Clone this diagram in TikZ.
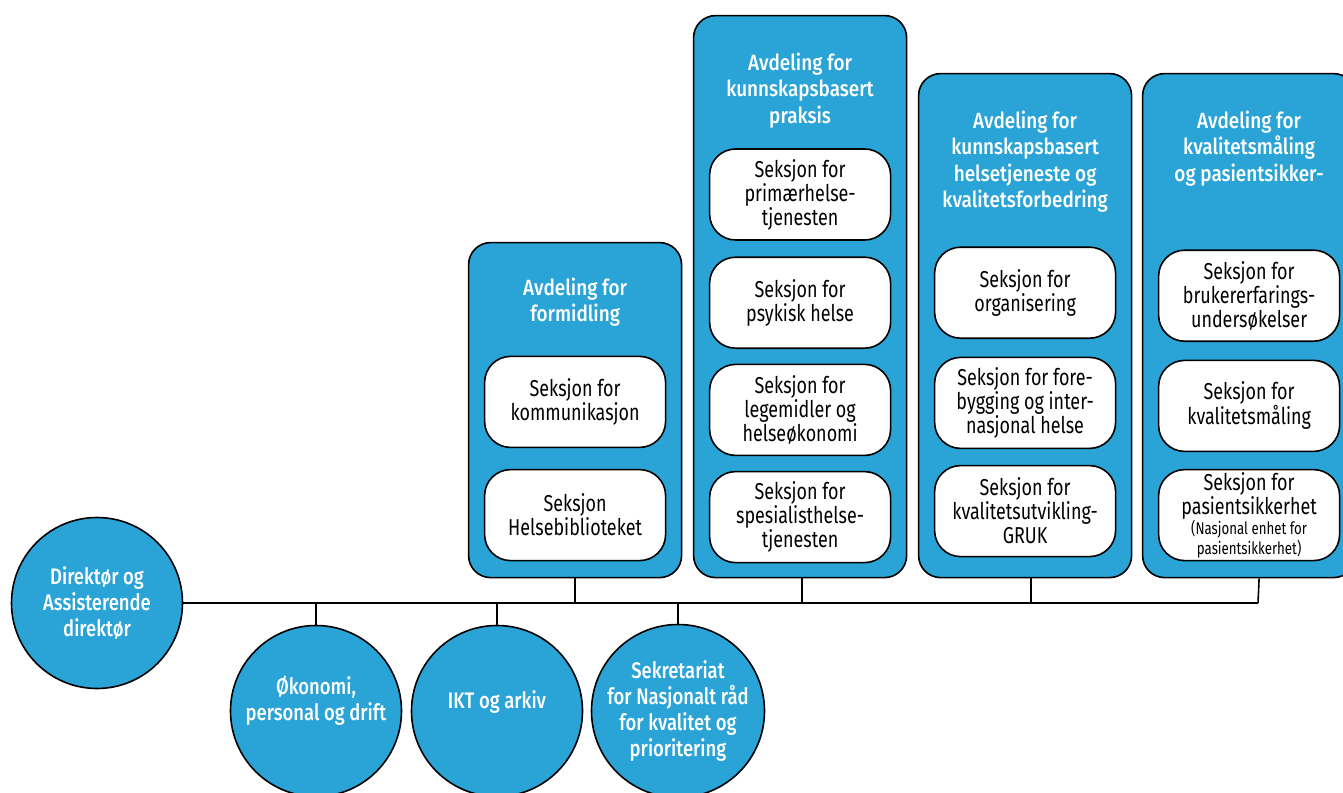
\documentclass[tikz,border=0pt]{standalone}
\usepackage{fontspec}
\setmainfont{Fira Sans}
\newfontfamily\bodyfam{Fira Sans}[FakeStretch=0.78]
\newfontfamily\headfam{Fira Sans Medium}[FakeStretch=0.86]
\newfontfamily\circfam{Fira Sans Medium}[FakeStretch=0.82]
\usetikzlibrary{positioning}
\definecolor{hdblue}{RGB}{42,164,214}
\newcommand{\boxfont}{\bodyfam\fontsize{23}{24}\selectfont}
\newcommand{\headfont}{\headfam\fontsize{22}{26.5}\selectfont}
\newcommand{\circfont}{\circfam\fontsize{22.5}{26}\selectfont}
\newcommand{\tinyfont}{\bodyfam\fontsize{17}{19}\selectfont}

\begin{document}
\begin{tikzpicture}[x=1pt, y=-1pt, line width=1.6pt,
    avd/.style={draw, fill=hdblue, rounded corners=22pt, anchor=north west,
      minimum width=213pt, inner sep=0pt},
    avdhead/.style={text=white, font=\headfont, align=center, inner sep=0pt},
    seksjon/.style={draw, fill=white, rounded corners=26pt, minimum width=181pt,
      minimum height=91pt, align=center, font=\boxfont, inner sep=0pt},
    enhet/.style={draw, fill=hdblue, circle, minimum size=171pt, inner sep=0pt,
      text=white, font=\circfont, align=center},
  ]
    \useasboundingbox (0,0) rectangle (1343,792);
    \clip (0,0) rectangle (1343,792);

    \node[avd, minimum height=335pt] (formid) at (467.8,241.8) {};
    \node[avd, minimum height=562pt] (praksis) at (692.8,14.8) {};
    \node[avd, minimum height=504pt] (helse) at (917.8,72.8) {};
    \node[avd, minimum height=504pt] (kval) at (1141.8,72.8) {};

    \node[avdhead, below=35pt of formid.north] {Avdeling for\\formidling};
    \node[avdhead, below=37pt of praksis.north] {Avdeling for\\kunnskapsbasert\\praksis};
    \node[avdhead, below=37pt of helse.north] {Avdeling for\\kunnskapsbasert\\helsetjeneste og\\kvalitetsforbedring};
    \node[avdhead, below=37pt of kval.north] {Avdeling for\\kvalitetsmåling\\og pasientsikker-};

    \node[seksjon, above=17pt of formid.south] (bib) {Seksjon\\Helsebiblioteket};
    \node[seksjon, above=20.6pt of bib] (komm) {Seksjon for\\kommunikasjon};

    \node[seksjon, above=15pt of praksis.south] (spes) {Seksjon for\\spesialisthelse-\\tjenesten};
    \node[seksjon, above=14.6pt of spes] (lege) {Seksjon for\\legemidler og\\helseøkonomi};
    \node[seksjon, above=14.6pt of lege] (psyk) {Seksjon for\\psykisk helse};
    \node[seksjon, above=15.6pt of psyk] (prim) {Seksjon for\\primærhelse-\\tjenesten};

    \node[seksjon, above=21pt of helse.south] (gruk) {Seksjon for\\kvalitetsutvikling-\\GRUK};
    \node[seksjon, above=15.6pt of gruk] (fore) {Seksjon for fore-\\bygging og inter-\\nasjonal helse};
    \node[seksjon, above=17.6pt of fore] (org) {Seksjon for\\organisering};

    \node[seksjon, above=17pt of kval.south] (pas) {Seksjon for\\pasientsikkerhet\\[-4pt]{\tinyfont (Nasjonal enhet for}\\[-4pt]{\tinyfont pasientsikkerhet)}};
    \node[seksjon, above=16.6pt of pas] (kmal) {Seksjon for\\kvalitetsmåling};
    \node[seksjon, above=17.6pt of kmal] (bruk) {Seksjon for\\brukererfarings-\\undersøkelser};

    \node[enhet] (dir) at (97,603) {Direktør og\\Assisterende\\direktør};
    \node[enhet] (oko) at (316,711) {};
    \node[enhet] (ikt) at (497,711) {};
    \node[enhet] (sekr) at (678,711) {Sekretariat\\for Nasjonalt råd\\for kvalitet og\\prioritering};
    \node[text=white, font=\circfont, align=center] at ([yshift=10pt]oko.center) {Økonomi,\\personal og drift};
    \node[text=white, font=\circfont, align=center] at ([yshift=9pt]ikt.center) {IKT og arkiv};

    \coordinate (lineend) at (1258,603);
    \draw (dir.east) -- (lineend);
    \draw (formid.south) -- (formid.south |- lineend);
    \draw ([xshift=2pt]praksis.south) -- ([xshift=2pt]praksis.south |- lineend);
    \draw ([xshift=6pt]helse.south) -- ([xshift=6pt]helse.south |- lineend);
    \draw ([xshift=10pt]kval.south) -- (lineend);
    \draw (oko.north) -- (oko.north |- lineend);
    \draw (ikt.north) -- (ikt.north |- lineend);
    \draw (sekr.north) -- (sekr.north |- lineend);
\end{tikzpicture}
\end{document}
